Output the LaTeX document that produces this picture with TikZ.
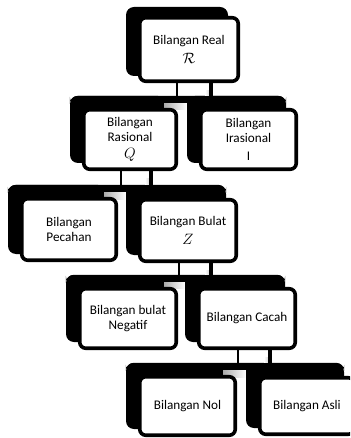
\documentclass[tikz,border=0pt]{standalone}
\usepackage{fontspec}
\setmainfont{Carlito}
\usetikzlibrary{calc}
\newcommand\mathline[1]{\scalebox{1.25}{$#1$}}
\begin{document}
\begin{tikzpicture}[x=1pt,y=-1pt,
  front/.style={draw=black, fill=white, line width=3.6pt, rounded corners=6pt, inner sep=0pt, align=center,
    font=\fontsize{13.2}{14.5}\selectfont},
  back/.style={fill=black, rounded corners=8pt, inner sep=0pt, draw=none},
  band/.style={fill=black, rounded corners=8pt},
  notch/.style={left color=gray!65, right color=white},
  thinc/.style={line width=1.4pt, draw=black},
  thickc/.style={line width=3.6pt, draw=black}]
\useasboundingbox (0,0) rectangle (350,438);
\clip (0,0) rectangle (350,438);
\newcommand\myconn[4]{%
  \coordinate (#1t) at ($(#1.south)+(#3,0)$);
  \coordinate (#1k) at ($(#1.south)+(#4,0)$);
  \shade[left color=white, right color=gray!45] ($(#1k)+(-6,7)$) rectangle (#1k |- #2.north);
  \draw[thinc] (#1t) -- (#1t |- #2.north);
  \draw[thickc] (#1k) -- (#1k |- #2.north);}

% level 1
\node[back, minimum width=102, minimum height=69] (realB) at (177,41.5) {};
\node[front, minimum width=98.5, minimum height=63.5] (real) at (189,49.5) {Bilangan Real\\[4pt]\mathline{\mathcal{R}}};

% level 2
\node[back, minimum width=96, minimum height=67] (rasB) at (118,129.5) {};
\node[back, minimum width=99, minimum height=67] (irasB) at (236.5,129.5) {};
\fill[band] (rasB.north west) rectangle ($(irasB.north east)+(0,9)$);
\shade[notch] ($(rasB.north east)+(-2,8)$) rectangle ($(irasB.north west)+(0,14)$);
\node[front, minimum width=92.5, minimum height=59.5] (ras) at (130,139.5) {Bilangan\\Rasional\\[3pt]\mathline{Q}};
\node[front, minimum width=95.5, minimum height=59.5] (iras) at (248.5,139.5) {Bilangan\\Irasional\\[4pt]I};

% level 3
\node[back, minimum width=98, minimum height=69] (pecB) at (57,219.5) {};
\node[back, minimum width=100, minimum height=69] (bulB) at (176,220.5) {};
\fill[band] (pecB.north west) rectangle ($(bulB.north east)+(0,9)$);
\shade[notch] ($(pecB.north east)+(-2,8)$) rectangle ($(bulB.north west)+(0,14)$);
\node[front, minimum width=94.5, minimum height=61.5] (pec) at (69,229.5) {Bilangan\\Pecahan};
\node[front, minimum width=96.5, minimum height=61.5] (bul) at (188,230.5) {Bilangan Bulat\\[4pt]\mathline{Z}};

% level 4
\node[back, minimum width=100, minimum height=67] (negB) at (116,308.5) {};
\node[back, minimum width=100, minimum height=67] (cacB) at (235,308.5) {};
\fill[band] (negB.north west) rectangle ($(cacB.north east)+(0,9)$);
\shade[notch] ($(negB.north east)+(-2,8)$) rectangle ($(cacB.north west)+(0,14)$);
\node[front, minimum width=96.5, minimum height=59.5] (neg) at (128,318.5) {Bilangan bulat\\Negatif};
\node[front, minimum width=96.5, minimum height=59.5] (cac) at (247,318.5) {Bilangan Cacah};

% level 5
\node[back, minimum width=99, minimum height=66] (nolB) at (175.5,396) {};
\node[back, minimum width=98, minimum height=64] (asliB) at (295,396) {};
\fill[band] (nolB.north west) rectangle ($(asliB.north east)+(0,9)$);
\shade[notch] ($(nolB.north east)+(-2,8)$) rectangle ($(asliB.north west)+(0,14)$);
\node[front, minimum width=95.5, minimum height=58.5] (nol) at (187.5,406) {Bilangan Nol};
\node[front, minimum width=94.5, minimum height=56.5] (asli) at (307,406) {Bilangan Asli};

% connectors
\myconn{real}{rasB}{-12}{22}
\myconn{ras}{pecB}{-9}{21}
\myconn{bul}{negB}{-9}{23}
\myconn{cac}{nolB}{-9}{23}
\end{tikzpicture}
\end{document}
